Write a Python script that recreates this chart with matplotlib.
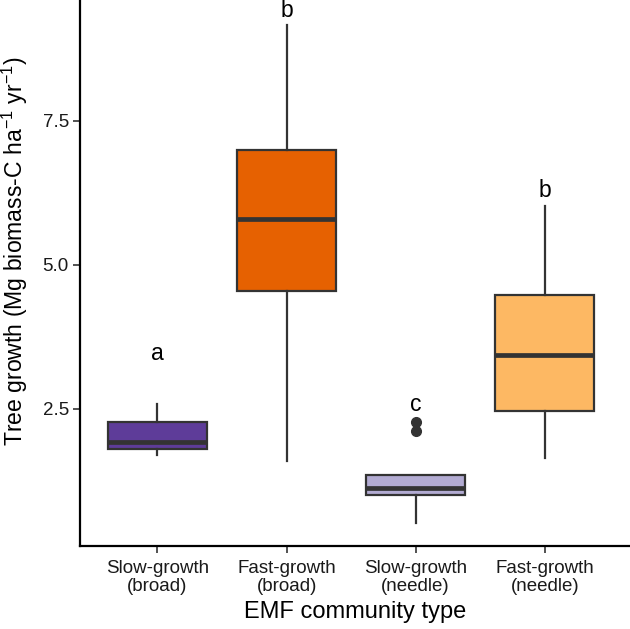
import matplotlib
matplotlib.use("Agg")
import matplotlib.pyplot as plt

plt.rcParams['font.family'] = ['Liberation Sans', 'DejaVu Sans']
plt.rcParams['mathtext.fontset'] = 'custom'
plt.rcParams['mathtext.rm'] = 'Liberation Sans'
plt.rcParams['mathtext.it'] = 'Liberation Sans'

categories = ["Slow-growth\n(broad)", "Fast-growth\n(broad)", "Slow-growth\n(needle)", "Fast-growth\n(needle)"]
q1 = [1.81, 4.55, 1.01, 2.47]
med = [1.93, 5.80, 1.13, 3.44]
q3 = [2.27, 7.00, 1.35, 4.48]
whislo = [1.70, 1.60, 0.52, 1.64]
whishi = [2.59, 9.17, 1.35, 6.02]
fliers = [[], [], [2.27, 2.11], []]
letters = ["a", "b", "c", "b"]
letter_y = [3.47, 9.42, 2.57, 6.30]
colors = ["#5E3C99", "#E66101", "#B2ABD2", "#FDB863"]
yticks = [2.5, 5.0, 7.5]

W, H = 630, 629
fig = plt.figure(figsize=(W / 100, H / 100), dpi=100)
ax = fig.add_axes([80 / W, (H - 546) / H, (W - 80) / W, 546 / H])

stats = []
for i in range(len(categories)):
    stats.append(dict(med=med[i], q1=q1[i], q3=q3[i], whislo=whislo[i],
                      whishi=whishi[i], fliers=fliers[i]))

edge = "#333333"
bp = ax.bxp(stats, positions=range(1, 5), widths=0.77, patch_artist=True,
            showcaps=False,
            boxprops=dict(edgecolor=edge, linewidth=1.6),
            whiskerprops=dict(color=edge, linewidth=1.6),
            medianprops=dict(color=edge, linewidth=3.4, solid_capstyle='butt'),
            flierprops=dict(marker='o', markerfacecolor=edge, markeredgecolor=edge,
                            markersize=7, linestyle='none'))
for patch, c in zip(bp['boxes'], colors):
    patch.set_facecolor(c)

for i, (l, y) in enumerate(zip(letters, letter_y)):
    ax.text(i + 1, y, l, ha='center', va='center', fontsize=16.5, color='black')

ax.set_xlim(0.4, 4.66)
ax.set_ylim(0.12, 9.6)
ax.set_xticks(range(1, 5))
ax.set_xticklabels(categories, fontsize=13.5, color='#1a1a1a', linespacing=1.1)
ax.set_yticks(yticks)
ax.set_yticklabels([f"{v:.1f}" for v in yticks], fontsize=13.5, color='#1a1a1a')
ax.tick_params(axis='both', length=5, width=1.2, color='#333333')
ax.tick_params(axis='x', pad=5)
ax.tick_params(axis='y', pad=3)

for s in ['top', 'right']:
    ax.spines[s].set_visible(False)
for s in ['left', 'bottom']:
    ax.spines[s].set_linewidth(1.6)
    ax.spines[s].set_color('black')

ax.set_xlabel("EMF community type", fontsize=17, labelpad=4)
ax.set_ylabel(r"Tree growth (Mg biomass-C ha$^{\mathregular{-1}}$ yr$^{\mathregular{-1}}$)",
              fontsize=16.6)
ax.yaxis.set_label_coords(-0.09, 0.54)

fig.savefig("out.png", dpi=100)
